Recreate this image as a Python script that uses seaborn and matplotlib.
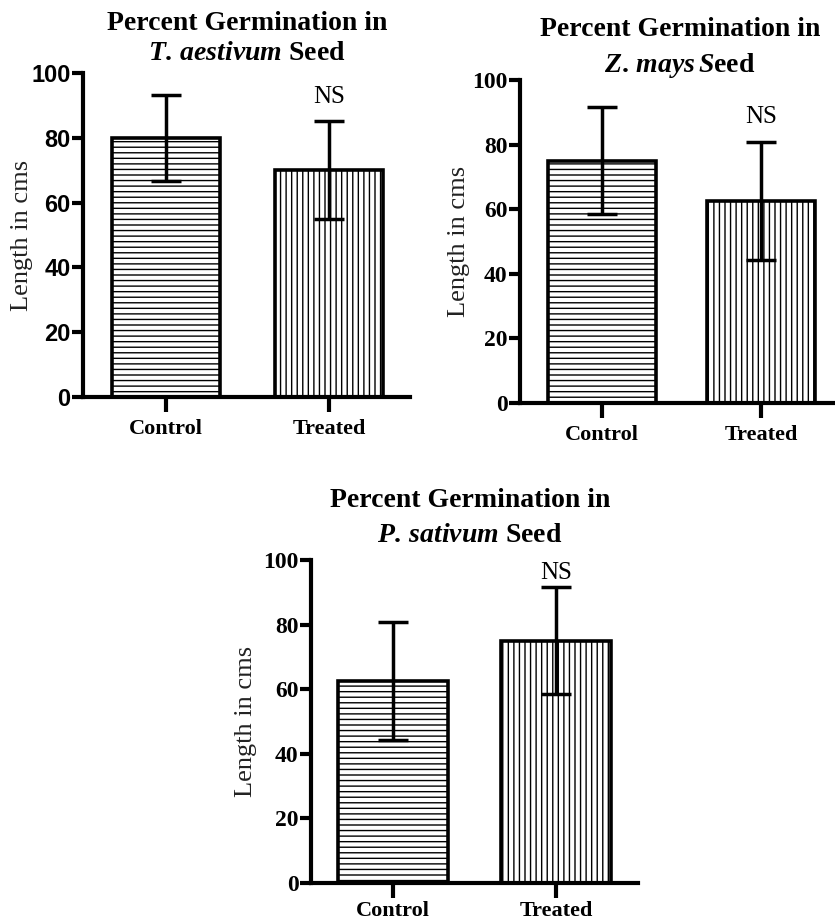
import numpy as np
import pandas as pd
import matplotlib
matplotlib.use("Agg")
import matplotlib.pyplot as plt
import seaborn as sns

sns.set_style("ticks")
plt.rcParams["hatch.linewidth"] = 1.0
plt.rcParams["mathtext.fontset"] = "custom"
plt.rcParams["mathtext.it"] = "Liberation Serif:italic:bold"
plt.rcParams["mathtext.bf"] = "Liberation Serif:italic:bold"
plt.rcParams["mathtext.rm"] = "Liberation Serif:bold"

groups = ["Control", "Treated"]
# T. aestivum
wheat_mean = [80.0, 70.0]
wheat_err = [13.3, 15.2]
# Z. mays
maize_mean = [75.0, 62.5]
maize_err = [16.5, 18.3]
# P. sativum
pea_mean = [62.5, 75.0]
pea_err = [18.3, 16.5]

title_line1 = "Percent Germination in"
species_italic = ["T.\\,aestivum", "Z.\\,mays\\,S", "P.\\,sativum"]
species_rest = [" Seed", "eed", " Seed"]
annot = "NS"

W, H = 835, 921
fig = plt.figure(figsize=(W / 100, H / 100), dpi=100)

serif = "Liberation Serif"
sans = "Liberation Sans"


def make_ax(left, right, y0, y100):
    return fig.add_axes([left / W, (H - y0) / H, (right - left) / W, (y0 - y100) / H])


def draw(ax, means, errs, xlim, bar_w, tick_font, idx, ns_y, ylab_x,
         title_x, t1_y, t2_y, xpad):
    df = pd.DataFrame({"group": groups, "value": means})
    sns.barplot(data=df, x="group", y="value", ax=ax, color="white",
                edgecolor="black", linewidth=2.6, width=bar_w, errorbar=None,
                saturation=1)
    hatches = ["---", "|||"]
    for p, h in zip(ax.patches, hatches):
        p.set_hatch(h)
        p.set_facecolor("white")
        p.set_edgecolor("black")
    ax.errorbar(range(len(groups)), means, yerr=errs, fmt="none", ecolor="black",
                elinewidth=2.5, capsize=11, capthick=2.5, zorder=5)
    ax.set_ylim(0, 100)
    ax.set_xlim(*xlim)
    ax.set_yticks([0, 20, 40, 60, 80, 100])
    ax.set_xlabel("")
    ax.set_ylabel("Length in cms", fontsize=19, family=serif, color="#222222")
    ax.yaxis.set_label_coords(ylab_x, 0.5)
    for s in ["top", "right"]:
        ax.spines[s].set_visible(False)
    for s in ["left", "bottom"]:
        ax.spines[s].set_linewidth(3)
        ax.spines[s].set_color("black")
    ax.tick_params(axis="y", length=8, width=3, direction="out", pad=1,
                   color="black", labelcolor="black")
    ax.tick_params(axis="x", length=11, width=3, direction="out", pad=xpad,
                   color="black", labelcolor="black")
    for t in ax.get_yticklabels():
        t.set_fontfamily(tick_font)
        t.set_fontweight("bold")
        t.set_fontsize(17)
    for t in ax.get_xticklabels():
        t.set_fontfamily(serif)
        t.set_fontweight("bold")
        t.set_fontsize(16)
    fig.text(title_x / W, 1 - t1_y / H, title_line1, ha="center", va="center",
             family=serif, fontweight="bold", fontsize=20, color="black")
    fig.text(title_x / W, 1 - t2_y / H,
             "$\\mathit{" + species_italic[idx] + "}$" + species_rest[idx],
             ha="center", va="center", family=serif, fontweight="bold", fontsize=20,
             color="black")
    ax.text(1, ns_y, annot, ha="center", va="center", family=serif, fontsize=18,
            color="black")
    ax.patch.set_alpha(0)


ax1 = make_ax(83, 410, 397, 73)
draw(ax1, wheat_mean, wheat_err, (-0.509, 1.497), 0.66, sans, 0, 92.6, -0.153,
     247, 23, 54, 5)

ax2 = make_ax(520, 835, 403, 80)
draw(ax2, maize_mean, maize_err, (-0.516, 1.465), 0.68, serif, 1, 88.5, -0.159,
     680, 30, 66, 5)

ax3 = make_ax(311, 638, 883, 560)
draw(ax3, pea_mean, pea_err, (-0.503, 1.503), 0.675, serif, 2, 96, -0.165,
     470, 500, 535, 2)

fig.savefig("out.png", dpi=100, facecolor="white")
